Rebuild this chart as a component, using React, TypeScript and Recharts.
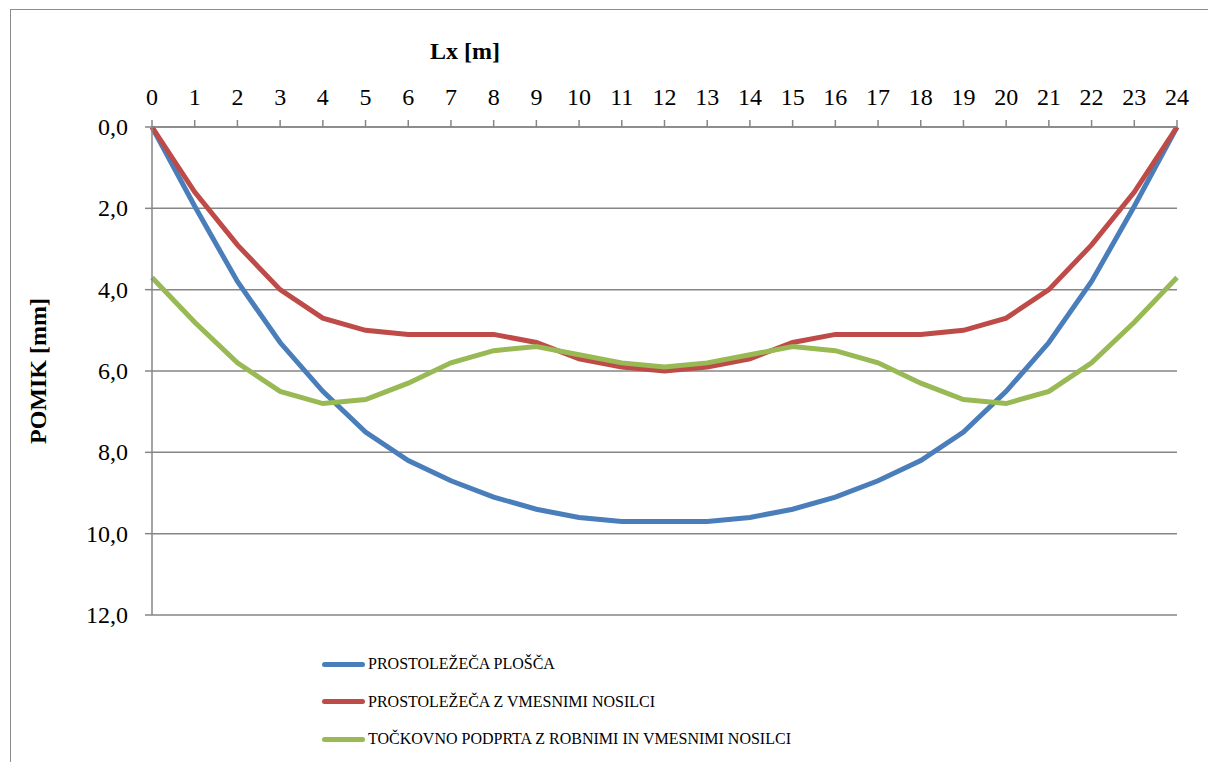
import React from 'react';
import { LineChart, Line, XAxis, YAxis, CartesianGrid } from 'recharts';

const lx = [0, 1, 2, 3, 4, 5, 6, 7, 8, 9, 10, 11, 12, 13, 14, 15, 16, 17, 18, 19, 20, 21, 22, 23, 24];
const plosca = [0, 1.95, 3.8, 5.3, 6.5, 7.5, 8.2, 8.7, 9.1, 9.4, 9.6, 9.7, 9.7, 9.7, 9.6, 9.4, 9.1, 8.7, 8.2, 7.5, 6.5, 5.3, 3.8, 1.95, 0];
const vmesni = [0, 1.6, 2.9, 4.0, 4.7, 5.0, 5.1, 5.1, 5.1, 5.3, 5.7, 5.9, 6.0, 5.9, 5.7, 5.3, 5.1, 5.1, 5.1, 5.0, 4.7, 4.0, 2.9, 1.6, 0];
const tockovno = [3.7, 4.8, 5.8, 6.5, 6.8, 6.7, 6.3, 5.8, 5.5, 5.4, 5.6, 5.8, 5.9, 5.8, 5.6, 5.4, 5.5, 5.8, 6.3, 6.7, 6.8, 6.5, 5.8, 4.8, 3.7];
const yTicks = [0, 2, 4, 6, 8, 10, 12];

const seriesNames = [
  'PROSTOLEŽEČA PLOŠČA',
  'PROSTOLEŽEČA Z VMESNIMI NOSILCI',
  'TOČKOVNO PODPRTA Z ROBNIMI IN VMESNIMI NOSILCI',
];
const colors = ['#4A7EBB', '#BE4B48', '#98B954'];

const data = lx.map((x, i) => ({ x, a: plosca[i], b: vmesni[i], c: tockovno[i] }));

const font = '"Liberation Serif", "Times New Roman", serif';
const gridColor = '#868686';

// x ticks sit above the axis (top orientation), y ticks right-aligned left of it
const XTick = ({ x, y, payload }: any) => (
  <text x={x} y={y} textAnchor="middle" style={{ fontFamily: font, fontSize: 24, fill: '#000' }}>
    {payload.value}
  </text>
);

const YTick = ({ x, y, payload }: any) => (
  <text x={x} y={y} dy={8} textAnchor="end" style={{ fontFamily: font, fontSize: 24, fill: '#000' }}>
    {Number(payload.value).toFixed(1).replace('.', ',')}
  </text>
);

export default function App() {
  return (
    <div style={{ position: 'fixed', left: 0, top: 0, width: 1208, height: 762, overflow: 'hidden', background: '#fff', fontFamily: font }}>
      <div style={{ position: 'absolute', left: 10, top: 9, width: 1300, height: 900, border: '1px solid #8c8c8c' }} />
      <div style={{ position: 'absolute', left: 0, top: 0 }}>
        <LineChart width={1208} height={762} data={data} margin={{ top: 87, right: 31, bottom: 147, left: 92 }}>
          <CartesianGrid horizontal vertical={false} stroke={gridColor} strokeWidth={1.5} />
          <XAxis
            dataKey="x"
            type="number"
            orientation="top"
            domain={[0, 24]}
            ticks={lx}
            interval={0}
            height={40}
            tick={<XTick />}
            tickSize={7}
            tickMargin={15}
            axisLine={{ stroke: gridColor, strokeWidth: 1.5 }}
            tickLine={{ stroke: gridColor, strokeWidth: 1.5 }}
          />
          <YAxis
            type="number"
            reversed
            domain={[0, 12]}
            ticks={yTicks}
            interval={0}
            width={60}
            tick={<YTick />}
            tickSize={7}
            tickMargin={17}
            axisLine={{ stroke: gridColor, strokeWidth: 1.5 }}
            tickLine={{ stroke: gridColor, strokeWidth: 1.5 }}
          />
          <Line type="linear" dataKey="a" name={seriesNames[0]} stroke={colors[0]} strokeWidth={5} dot={false} isAnimationActive={false} />
          <Line type="linear" dataKey="b" name={seriesNames[1]} stroke={colors[1]} strokeWidth={5} dot={false} isAnimationActive={false} />
          <Line type="linear" dataKey="c" name={seriesNames[2]} stroke={colors[2]} strokeWidth={5} dot={false} isAnimationActive={false} />
        </LineChart>
      </div>
      <div style={{ position: 'absolute', left: 430, top: 36, fontSize: 24, fontWeight: 'bold', lineHeight: '30px', whiteSpace: 'nowrap' }}>
        Lx [m]
      </div>
      <div style={{ position: 'absolute', left: 38, top: 371, transform: 'translate(-50%, -50%) rotate(-90deg)', fontSize: 24, fontWeight: 'bold', lineHeight: '30px', whiteSpace: 'nowrap' }}>
        POMIK [mm]
      </div>
      {seriesNames.map((name, i) => (
        <div key={name} style={{ position: 'absolute', left: 322, top: 652 + i * 37.5, height: 24, display: 'flex', alignItems: 'center', whiteSpace: 'nowrap' }}>
          <span style={{ display: 'inline-block', width: 43, height: 5, borderRadius: 3, background: colors[i], marginRight: 3 }} />
          <span style={{ fontSize: 16, color: '#000' }}>{name}</span>
        </div>
      ))}
    </div>
  );
}
